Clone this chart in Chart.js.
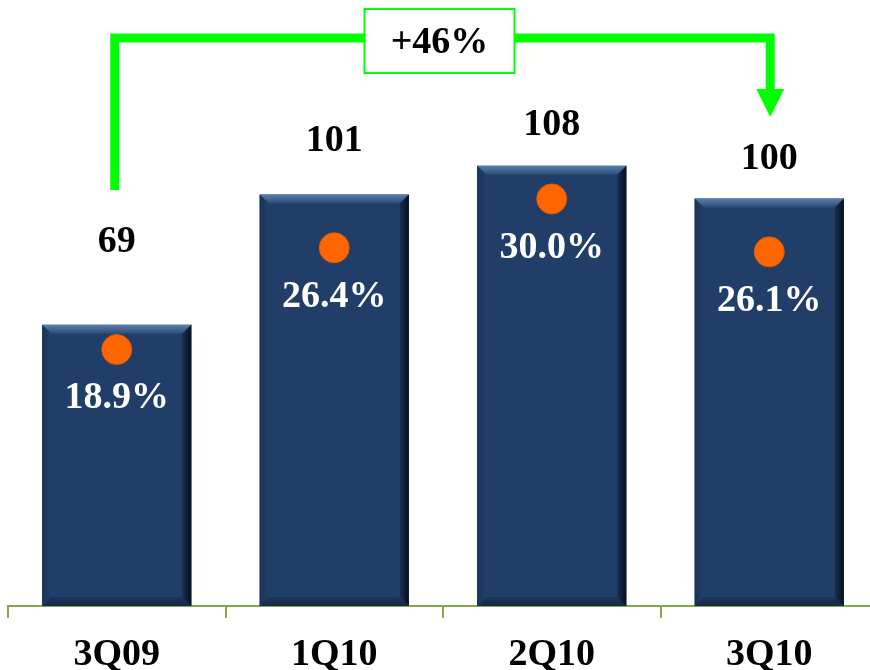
<!DOCTYPE html>
<html>
<head>
<meta charset="utf-8">
<script src="https://cdn.jsdelivr.net/npm/chart.js@4"></script>
<style>
  html, body { margin: 0; padding: 0; background: #fff; overflow: hidden; }
  #wrap { width: 880px; height: 670px; }
</style>
</head>
<body>
<div id="wrap"><canvas id="chart" width="880" height="670"></canvas></div>
<script>
const quarters = ['3Q09', '1Q10', '2Q10', '3Q10']
const volumes = [69, 101, 108, 100]
const margins = [18.9, 26.4, 30.0, 26.1]
const growthLabel = '+46%'
// how far each value label sits above its bar top
const valueLift = [83, 53, 41, 39]

const FONT = '"Liberation Serif", "Times New Roman", serif'
const GREEN = '#00ff00'

// paint bevelled edges over the flat bar fill
const bevelPlugin = {
  id: 'bevel',
  afterDatasetDraw(chart, args) {
    if (args.index !== 0) return
    const ctx = chart.ctx
    chart.getDatasetMeta(0).data.forEach(bar => {
      const { x, y, base, width } = bar.getProps(['x', 'y', 'base', 'width'], true)
      const l = x - width / 2, r = x + width / 2, b = 9
      const quad = (pts, fill) => {
        ctx.fillStyle = fill
        ctx.beginPath()
        ctx.moveTo(pts[0], pts[1])
        for (let i = 2; i < pts.length; i += 2) ctx.lineTo(pts[i], pts[i + 1])
        ctx.closePath()
        ctx.fill()
      }
      ctx.save()
      let g = ctx.createLinearGradient(0, y, 0, y + b)
      g.addColorStop(0, '#5a7eab')
      g.addColorStop(1, '#2b4b77')
      quad([l, y, r, y, r - b, y + b, l + b, y + b], g)
      g = ctx.createLinearGradient(0, base - b, 0, base)
      g.addColorStop(0, '#1b355a')
      g.addColorStop(1, '#14284a')
      quad([l, base, r, base, r - b, base - b, l + b, base - b], g)
      g = ctx.createLinearGradient(l, 0, l + b, 0)
      g.addColorStop(0, '#1a3357')
      g.addColorStop(1, '#213f69')
      quad([l, y, l + b, y + b, l + b, base - b, l, base], g)
      g = ctx.createLinearGradient(r - b, 0, r, 0)
      g.addColorStop(0, '#182f50')
      g.addColorStop(1, '#070f1c')
      quad([r, y, r - b, y + b, r - b, base - b, r, base], g)
      ctx.restore()
    })
  }
}

// value labels above bars, margin labels under the dots
const labelPlugin = {
  id: 'labels',
  afterDatasetsDraw(chart) {
    const ctx = chart.ctx
    ctx.save()
    ctx.font = 'bold 38px ' + FONT
    ctx.textAlign = 'center'
    ctx.textBaseline = 'middle'
    chart.getDatasetMeta(0).data.forEach((bar, i) => {
      ctx.fillStyle = '#000'
      ctx.fillText(String(volumes[i]), bar.x, bar.y - valueLift[i])
    })
    chart.getDatasetMeta(1).data.forEach((pt, i) => {
      ctx.fillStyle = '#fff'
      ctx.fillText(margins[i].toFixed(1) + '%', pt.x, pt.y + 49)
    })
    ctx.restore()
  }
}

// green bracket from the first to the last quarter
const bracketPlugin = {
  id: 'bracket',
  afterDraw(chart) {
    const ctx = chart.ctx
    const bars = chart.getDatasetMeta(0).data
    const xL = bars[0].x - 2, xR = bars[bars.length - 1].x + 1
    const top = 38
    ctx.save()
    ctx.strokeStyle = GREEN
    ctx.fillStyle = GREEN
    ctx.lineWidth = 9
    ctx.lineJoin = 'miter'
    ctx.beginPath()
    ctx.moveTo(xL, 190)
    ctx.lineTo(xL, top)
    ctx.lineTo(xR, top)
    ctx.lineTo(xR, 90)
    ctx.stroke()
    ctx.beginPath()
    ctx.moveTo(xR - 14, 89)
    ctx.lineTo(xR + 14, 89)
    ctx.lineTo(xR, 117)
    ctx.closePath()
    ctx.fill()

    const mid = (xL + xR) / 2 - 3
    ctx.fillStyle = '#fff'
    ctx.fillRect(mid - 75, 9, 150, 64)
    ctx.lineWidth = 2
    ctx.strokeRect(mid - 75, 9, 150, 64)
    ctx.fillStyle = '#000'
    ctx.font = 'bold 38px ' + FONT
    ctx.textAlign = 'center'
    ctx.textBaseline = 'middle'
    ctx.fillText(growthLabel, mid, 43)
    ctx.restore()
  }
}

new Chart(document.getElementById('chart'), {
  type: 'bar',
  data: {
    labels: quarters,
    datasets: [
      {
        type: 'bar',
        data: volumes,
        backgroundColor: '#203e68',
        borderWidth: 0,
        barPercentage: 0.686,
        categoryPercentage: 1,
        yAxisID: 'y',
        order: 2
      },
      {
        type: 'line',
        data: margins,
        showLine: false,
        pointRadius: 15,
        pointBackgroundColor: '#ff6600',
        pointBorderColor: '#e35800',
        pointBorderWidth: 1,
        yAxisID: 'y1',
        order: 1
      }
    ]
  },
  options: {
    responsive: false,
    animation: false,
    layout: { autoPadding: false, padding: { left: 8, right: 2, top: 0, bottom: 0 } },
    plugins: { legend: { display: false }, tooltip: { enabled: false } },
    scales: {
      x: {
        afterFit: scale => { scale.height = 64 },
        border: { color: '#86a84a', width: 2 },
        grid: { display: true, offset: true, drawOnChartArea: false, drawTicks: true, tickLength: 12, color: '#86a84a', lineWidth: 2 },
        ticks: { color: '#000', font: { family: FONT, size: 38, weight: 'bold' }, padding: 14 }
      },
      y: { display: false, min: 0, max: 148.7 },
      y1: { display: false, position: 'right', min: 0, max: 44.66 }
    }
  },
  plugins: [bevelPlugin, labelPlugin, bracketPlugin]
})
</script>
</body>
</html>
